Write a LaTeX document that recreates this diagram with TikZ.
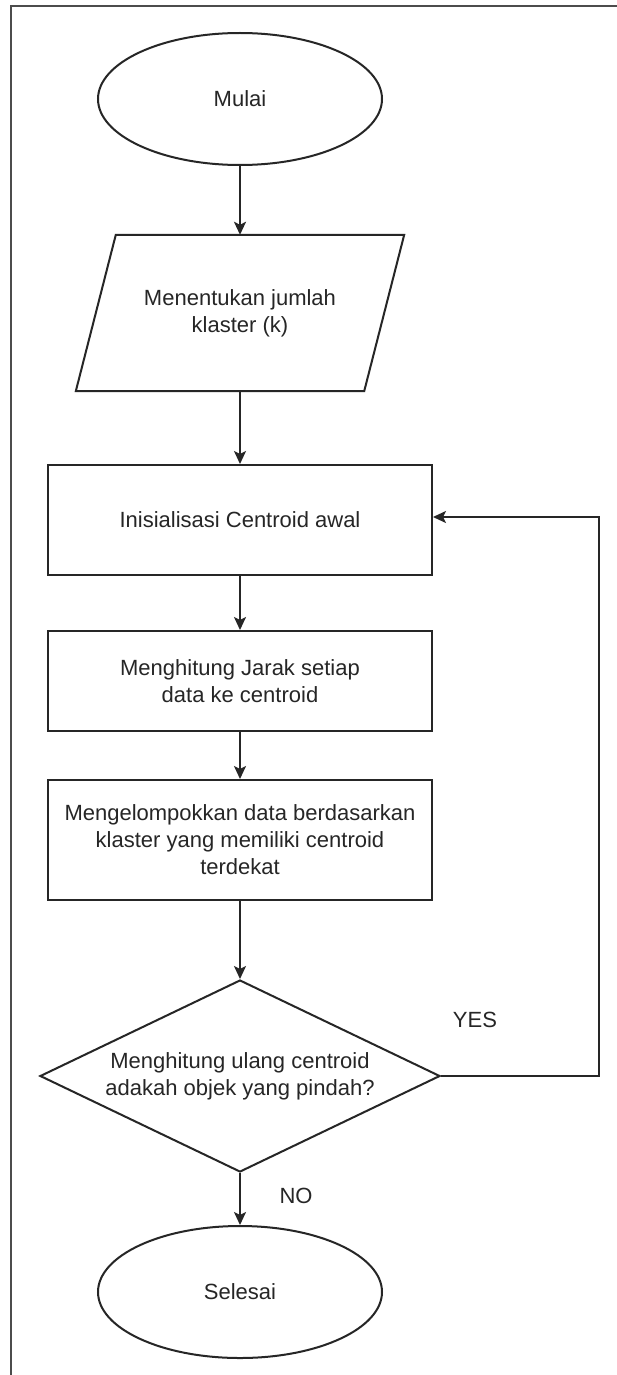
\documentclass[tikz,border=0pt]{standalone}
\usepackage{fontspec}
\setmainfont{Liberation Sans}
\usetikzlibrary{shapes.geometric,arrows.meta}
\begin{document}
\begin{tikzpicture}[x=1pt,y=-1pt,
  every node/.style={font=\fontsize{22}{27}\selectfont, text=black!85, align=center, inner sep=0pt},
  line/.style={draw=black!85, line width=2pt},
  term/.style={line, ellipse, minimum width=284pt, minimum height=132pt},
  proc/.style={line, rectangle, minimum width=384pt},
  dec/.style={line, diamond, shape aspect=2.1, minimum width=400pt, minimum height=192pt},
  flow/.style={line, -{Stealth[length=13pt,width=12pt,inset=3pt]}},
]
\useasboundingbox (0,0) rectangle (617,1375);
\fill[white] (0,0) rectangle (617,1375);
\draw[draw=black!70, line width=2pt] (11,1376) -- (11,6) -- (618,6);

\node[term] (start) at (240,99) {Mulai};
\node[minimum width=288pt, minimum height=156pt] (input) at (240,313) {Menentukan jumlah\\klaster (k)};
\draw[line] ([xshift=20pt]input.north west) -- ([xshift=20pt]input.north east)
  -- ([xshift=-20pt]input.south east) -- ([xshift=-20pt]input.south west) -- cycle;
\node[proc, minimum height=110pt] (init) at (240,520) {Inisialisasi Centroid awal};
\node[proc, minimum height=100pt] (dist) at (240,681) {Menghitung Jarak setiap\\data ke centroid};
\node[proc, minimum height=120pt] (group) at (240,840) {Mengelompokkan data berdasarkan\\klaster yang memiliki centroid\\terdekat};
\node[dec] (check) at (240,1076) {Menghitung ulang centroid\\adakah objek yang pindah?};
\node[term] (end) at (240,1292) {Selesai};

\draw[flow] (start) -- (input);
\draw[flow] (input) -- (init);
\draw[flow] (init) -- (dist);
\draw[flow] (dist) -- (group);
\draw[flow] (group) -- (check);
\draw[flow] (check) -- (end);
\coordinate (c1) at (599,1076);
\draw[flow] (check.east) -- (c1) |- ([yshift=3pt]init.east);

\node (yes) at (475,1020) {YES};
\node (no) at (296,1196) {NO};
\end{tikzpicture}
\end{document}
